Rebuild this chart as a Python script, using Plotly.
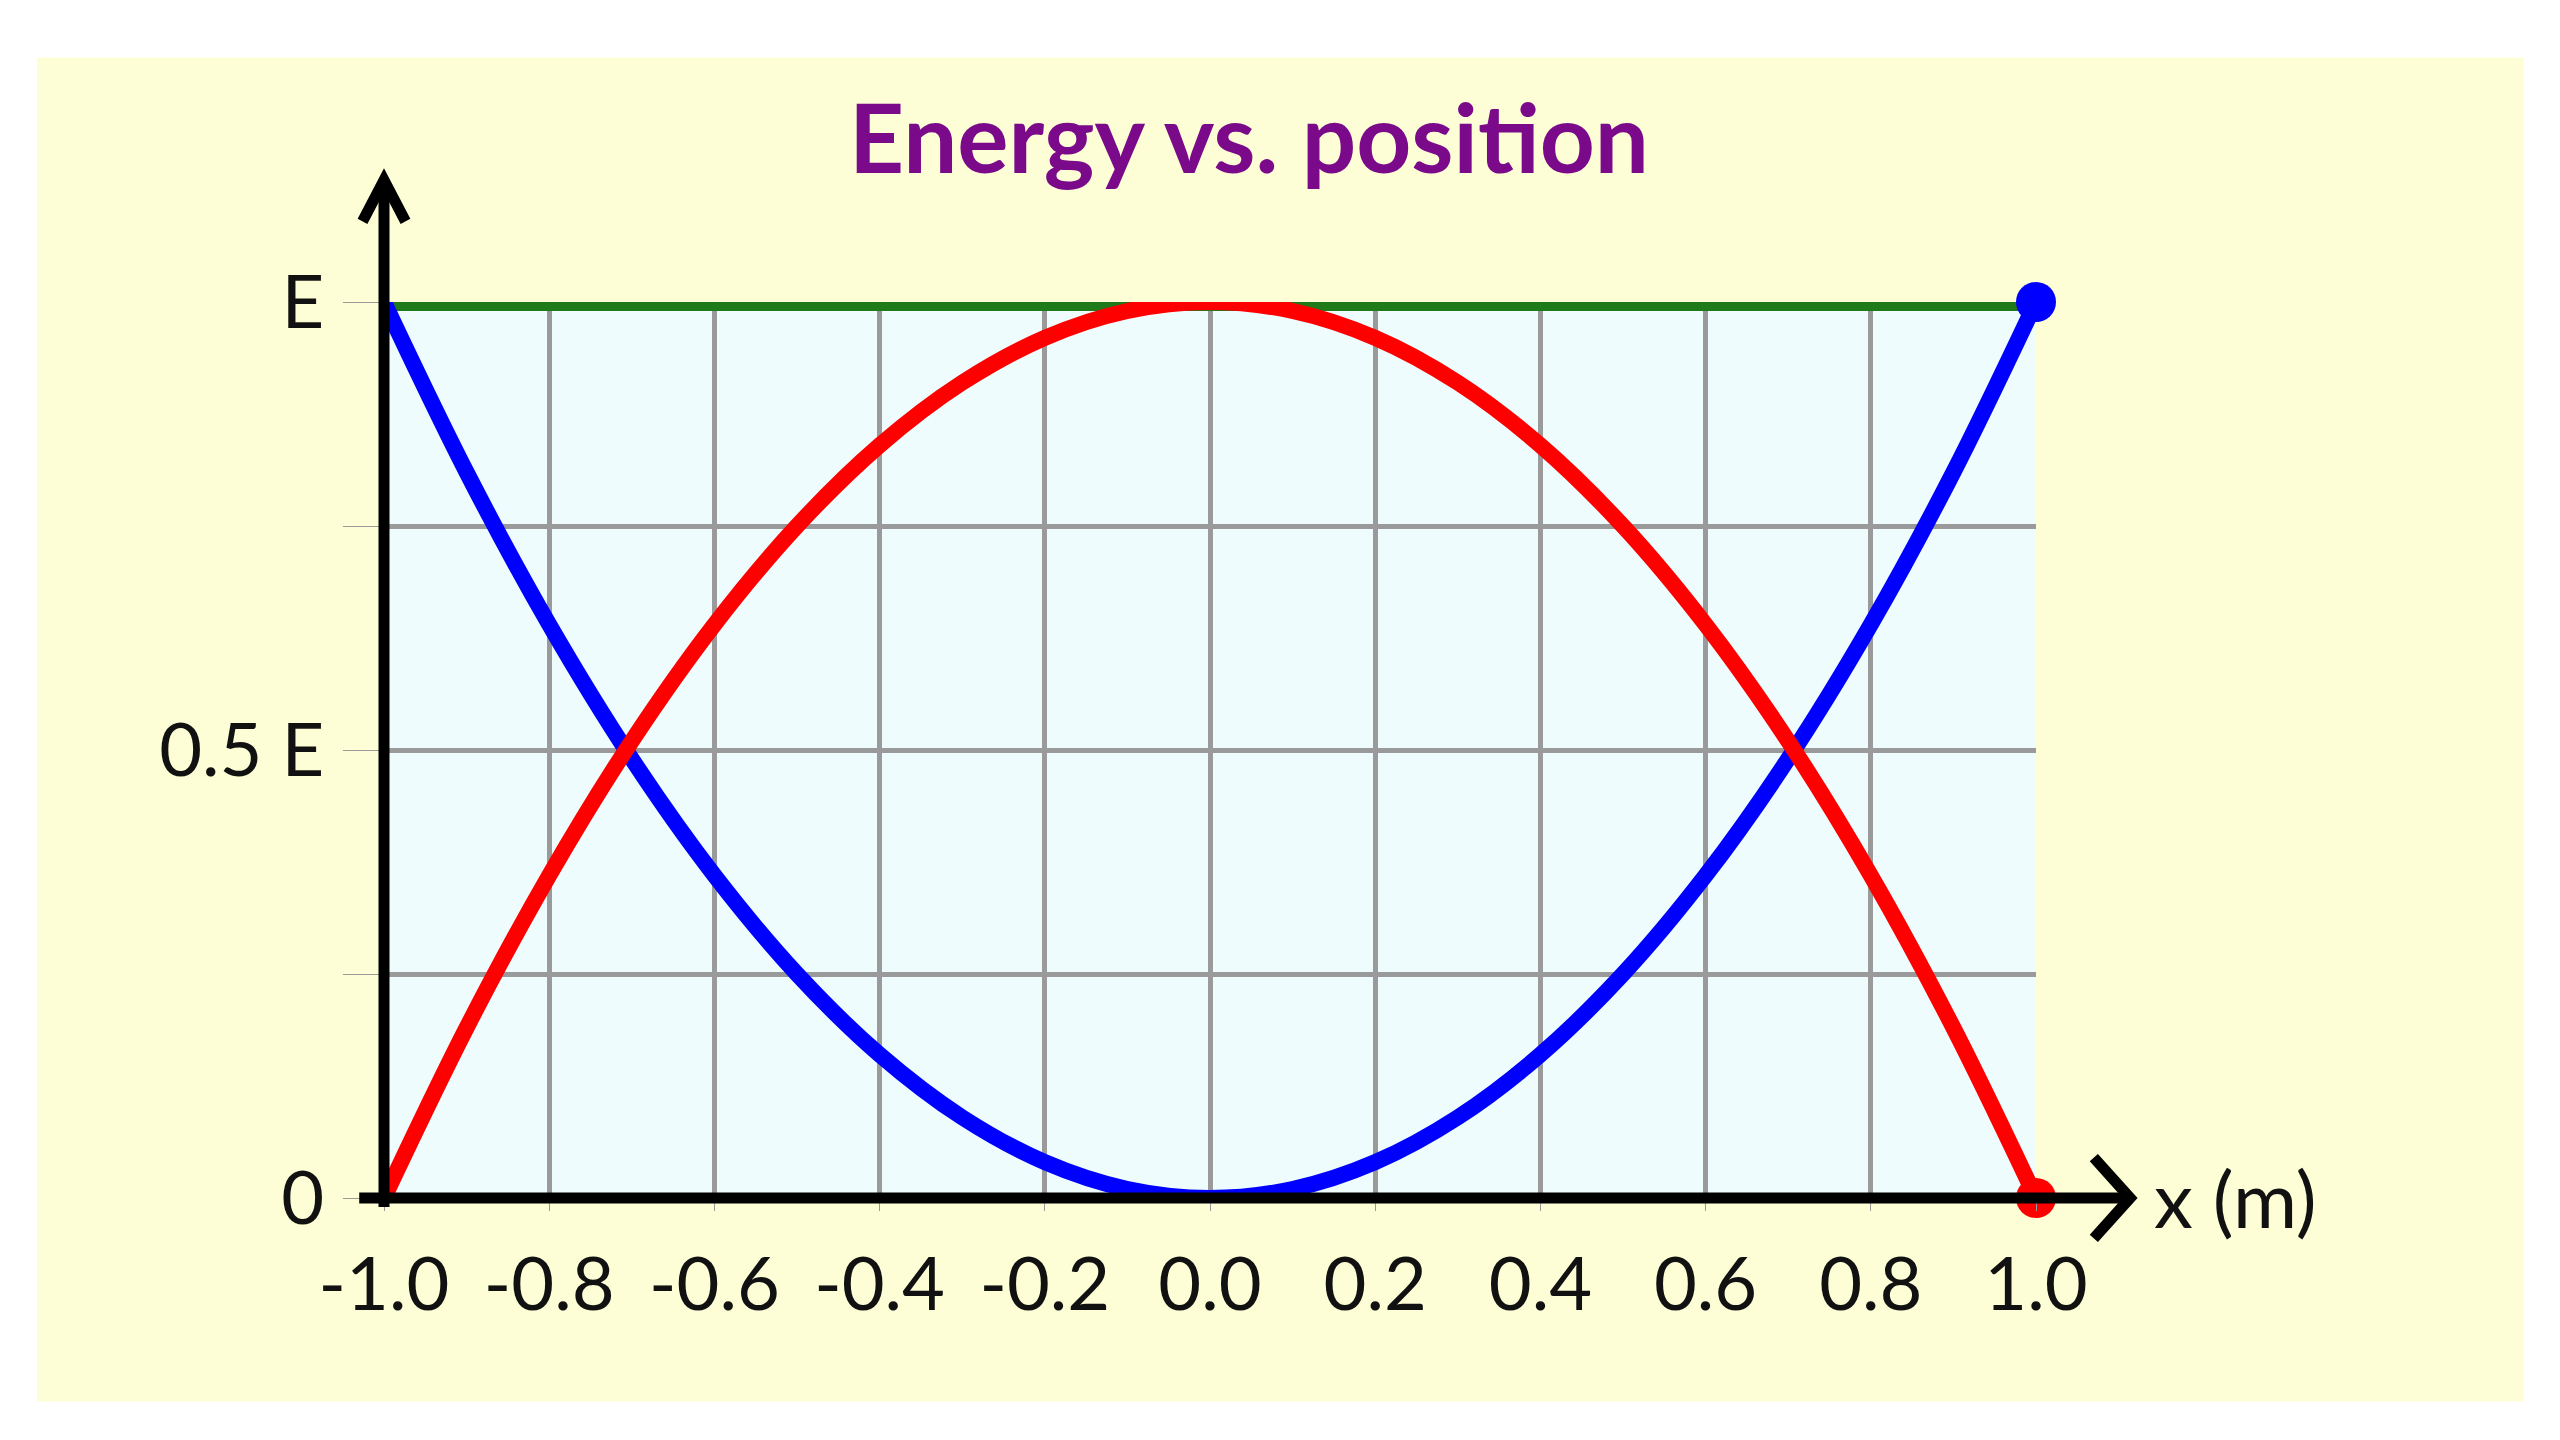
import plotly.graph_objects as go

x_pos = [-1.0,-0.9,-0.8,-0.7,-0.6,-0.5,-0.4,-0.3,-0.2,-0.1,0.0,0.1,0.2,0.3,0.4,0.5,0.6,0.7,0.8,0.9,1.0]
pe = [1.0,0.81,0.64,0.49,0.36,0.25,0.16,0.09,0.04,0.01,0.0,0.01,0.04,0.09,0.16,0.25,0.36,0.49,0.64,0.81,1.0]
ke = [0.0,0.19,0.36,0.51,0.64,0.75,0.84,0.91,0.96,0.99,1.0,0.99,0.96,0.91,0.84,0.75,0.64,0.51,0.36,0.19,0.0]
total_x = [-1.0, 1.0]
total_e = [1.0, 1.0]
x_ticks = [-1.0,-0.8,-0.6,-0.4,-0.2,0.0,0.2,0.4,0.6,0.8,1.0]
x_tick_text = ["-1.0","-0.8","-0.6","-0.4","-0.2","0.0","0.2","0.4","0.6","0.8","1.0"]
y_ticks = [0,0.25,0.5,0.75,1.0]
y_tick_text = ["0","","0.5 E","","E"]

fig = go.Figure()
fig.add_trace(go.Scatter(x=total_x, y=total_e, mode="lines", line=dict(color="#1f7a1a", width=18), cliponaxis=False))
fig.add_trace(go.Scatter(x=x_pos, y=pe, mode="lines", line=dict(color="#0000ff", width=16, shape="spline"), cliponaxis=False))
fig.add_trace(go.Scatter(x=x_pos, y=ke, mode="lines", line=dict(color="#ff0000", width=16, shape="spline"), cliponaxis=False))
fig.add_trace(go.Scatter(x=[x_pos[-1]], y=[pe[-1]], mode="markers", marker=dict(color="#0000ff", size=40), cliponaxis=False))
fig.add_trace(go.Scatter(x=[x_pos[-1]], y=[ke[-1]], mode="markers", marker=dict(color="#ff0000", size=40), cliponaxis=False))

shapes = [
    dict(type="rect", xref="paper", yref="paper", x0=-0.21, x1=1.295, y0=-0.227, y1=1.273,
         fillcolor="#fdfdd6", line=dict(width=0), layer="below"),
    dict(type="rect", xref="paper", yref="paper", x0=0, x1=1, y0=0, y1=1,
         fillcolor="#eefcfd", line=dict(width=0), layer="below"),
    dict(type="line", xref="paper", yref="paper", x0=-0.015, x1=1.057, y0=0, y1=0, line=dict(color="black", width=11)),
    dict(type="line", xref="paper", yref="paper", x0=0, x1=0, y0=-0.01, y1=1.136, line=dict(color="black", width=11)),
    dict(type="path", xref="paper", yref="paper", path="M 1.035,0.045 L 1.057,0 L 1.035,-0.045", line=dict(color="black", width=11)),
    dict(type="path", xref="paper", yref="paper", path="M -0.013,1.09 L 0,1.136 L 0.013,1.09", line=dict(color="black", width=11)),
]

fig.update_layout(
    width=2560, height=1440, showlegend=False,
    margin=dict(l=376, r=532, t=294, b=250),
    paper_bgcolor="white", plot_bgcolor="#eefcfd",
    shapes=shapes,
    title=dict(text="<b>Energy vs. position</b>", x=1241/2560, xanchor="center", y=1-131/1440, yanchor="middle",
               font=dict(family="Lato", size=96, color="#7a0a8a")),
    annotations=[dict(text="x (m)", xref="paper", yref="paper", x=1.07, y=0, xanchor="left", yanchor="middle",
                      showarrow=False, font=dict(family="Lato", size=78, color="#111"))],
    xaxis=dict(range=[-1, 1], tickvals=x_ticks, ticktext=x_tick_text, showgrid=True, gridcolor="#9a9a9a", gridwidth=5,
               zeroline=False, showline=False, ticks="outside", ticklen=12, tickcolor="#9a9a9a",
               tickfont=dict(family="Lato", size=74, color="#111"), ticklabelstandoff=10),
    yaxis=dict(range=[0, 1], tickvals=y_ticks, ticktext=y_tick_text, showgrid=True, gridcolor="#9a9a9a", gridwidth=5,
               zeroline=False, showline=False, ticks="outside", ticklen=40, tickcolor="#9a9a9a",
               tickfont=dict(family="Lato", size=74, color="#111"), ticklabelstandoff=4),
)
fig.write_html("out.html")
